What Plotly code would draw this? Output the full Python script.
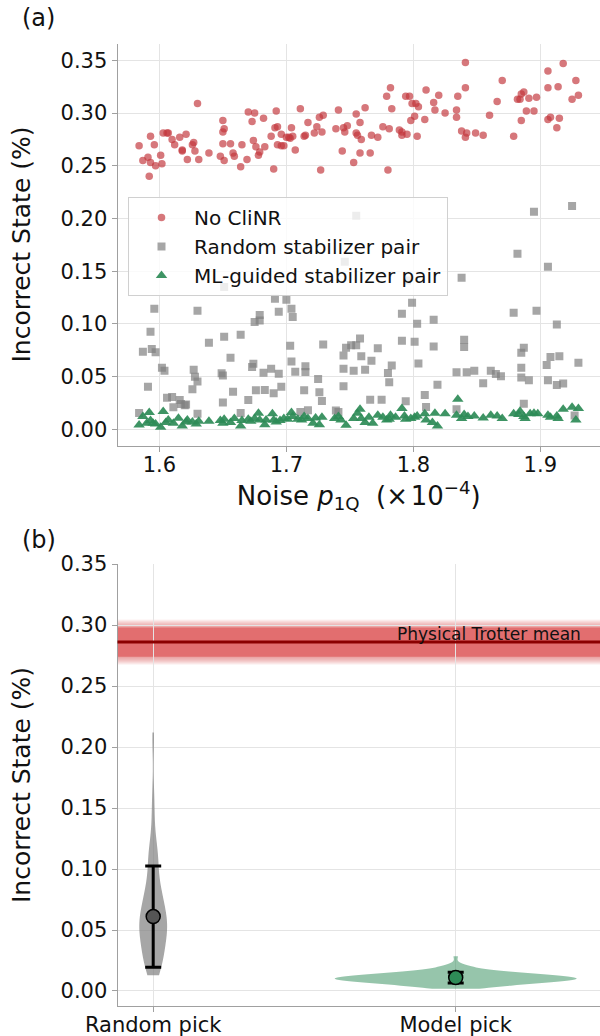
import plotly.graph_objects as go

# ---------------- data: panel (a) ----------------
red_x = [1.584,1.587,1.591,1.592,1.593,1.593,1.596,1.597,1.601,1.602,
         1.603,1.606,1.607,1.610,1.612,1.616,1.618,1.618,1.621,1.622,
         1.626,1.627,1.628,1.630,1.631,1.639,1.648,1.650,1.650,1.651,
         1.650,1.651,1.656,1.658,1.659,1.664,1.665,1.669,1.670,1.673,
         1.674,1.675,1.676,1.678,1.679,1.682,1.683,1.688,1.690,1.691,
         1.692,1.693,1.693,1.696,1.696,1.698,1.700,1.702,1.703,1.704,
         1.705,1.707,1.711,1.714,1.715,1.717,1.722,1.724,1.726,1.727,
         1.728,1.729,1.739,1.741,1.744,1.745,1.746,1.748,1.753,1.755,
         1.755,1.756,1.758,1.759,1.758,1.762,1.766,1.767,1.772,1.776,
         1.779,1.780,1.781,1.782,1.783,1.789,1.791,1.791,1.794,1.795,
         1.797,1.798,1.799,1.801,1.802,1.803,1.804,1.809,1.810,1.816,
         1.817,1.820,1.825,1.834,1.834,1.835,1.838,1.841,1.841,1.841,
         1.842,1.849,1.855,1.860,1.866,1.870,1.879,1.882,1.884,1.885,
         1.885,1.887,1.889,1.891,1.895,1.897,1.906,1.906,1.906,1.908,
         1.913,1.914,1.915,1.918,1.925,1.928,1.930]
red_y = [0.269,0.255,0.258,0.240,0.253,0.278,0.270,0.250,0.260,0.252,
         0.281,0.281,0.281,0.275,0.270,0.277,0.265,0.264,0.280,0.256,
         0.270,0.272,0.264,0.309,0.256,0.262,0.259,0.293,0.282,0.285,
         0.271,0.255,0.271,0.262,0.259,0.249,0.270,0.256,0.301,0.292,
         0.274,0.300,0.268,0.260,0.263,0.295,0.268,0.278,0.247,0.286,
         0.302,0.287,0.270,0.269,0.280,0.269,0.277,0.277,0.276,0.286,
         0.278,0.265,0.304,0.278,0.279,0.291,0.281,0.287,0.296,0.246,
         0.282,0.298,0.285,0.303,0.264,0.286,0.282,0.288,0.253,0.281,
         0.299,0.279,0.291,0.275,0.262,0.305,0.262,0.279,0.277,0.287,
         0.316,0.246,0.285,0.324,0.304,0.284,0.282,0.279,0.316,0.280,
         0.316,0.293,0.309,0.297,0.309,0.278,0.306,0.294,0.322,0.310,
         0.303,0.317,0.300,0.303,0.296,0.316,0.283,0.348,0.277,0.324,
         0.281,0.281,0.279,0.298,0.311,0.331,0.278,0.313,0.313,0.318,
         0.293,0.320,0.302,0.314,0.302,0.315,0.340,0.324,0.294,0.296,
         0.286,0.325,0.295,0.347,0.313,0.331,0.317]

gray_x = [1.584,1.587,1.591,1.593,1.594,1.596,1.597,1.602,1.604,1.606,
          1.610,1.611,1.616,1.617,1.620,1.621,1.626,1.627,1.628,1.630,
          1.630,1.630,1.639,1.649,1.650,1.650,1.651,1.651,1.656,1.658,
          1.664,1.664,1.670,1.673,1.674,1.675,1.676,1.679,1.679,1.682,
          1.683,1.688,1.690,1.691,1.694,1.694,1.696,1.700,1.703,1.704,
          1.705,1.704,1.707,1.711,1.714,1.715,1.715,1.717,1.725,1.726,
          1.728,1.729,1.739,1.741,1.745,1.745,1.745,1.747,1.746,1.755,
          1.751,1.755,1.758,1.759,1.762,1.767,1.772,1.753,1.766,1.775,
          1.780,1.781,1.783,1.791,1.791,1.794,1.795,1.799,1.801,1.803,
          1.804,1.809,1.810,1.816,1.816,1.819,1.834,1.834,1.838,1.840,
          1.840,1.842,1.848,1.855,1.861,1.865,1.869,1.879,1.882,1.885,
          1.885,1.887,1.885,1.891,1.887,1.895,1.897,1.905,1.906,1.906,
          1.908,1.913,1.913,1.915,1.918,1.925,1.927,1.930]
gray_y = [0.0155,0.0736,0.0404,0.0925,0.0761,0.1143,0.0730,0.0584,0.0556,0.0300,
          0.0306,0.0208,0.0278,0.0240,0.0227,0.0234,0.0379,0.0565,0.0499,0.0452,
          0.1124,0.0148,0.0821,0.0531,0.0509,0.0253,0.1349,0.0878,0.0679,0.0357,
          0.0155,0.0897,0.0278,0.0591,0.0622,0.1017,0.0370,0.1083,0.1033,0.0537,
          0.0373,0.0575,0.0341,0.1238,0.1115,0.0527,0.0404,0.1229,0.0793,0.1143,
          0.1064,0.0644,0.0546,0.0164,0.0370,0.0597,0.0543,0.0180,0.0477,0.0351,
          0.0268,0.0805,0.0177,0.0164,0.0701,0.0407,0.0575,0.0774,0.1590,0.2025,
          0.0796,0.0796,0.0862,0.0692,0.0565,0.0651,0.0768,0.0556,0.0281,0.0281,
          0.0534,0.0445,0.0606,0.1096,0.0840,0.0265,0.1412,0.1200,0.0831,0.1001,
          0.0625,0.0325,0.0212,0.0786,0.1039,0.0423,0.0540,0.0190,0.1437,0.0780,
          0.0850,0.0540,0.0556,0.0436,0.0556,0.0524,0.0502,0.1106,0.1665,0.0726,
          0.0584,0.0774,0.0490,0.0464,0.0243,0.2063,0.1124,0.0610,0.0464,0.1541,
          0.0685,0.0420,0.0995,0.0692,0.0433,0.2119,0.0130,0.0632]

green_x = [1.584,1.587,1.590,1.592,1.593,1.595,1.597,1.601,1.603,1.605,
           1.607,1.611,1.615,1.618,1.621,1.622,1.626,1.629,1.631,1.639,
           1.648,1.650,1.651,1.656,1.659,1.664,1.665,1.670,1.672,1.675,
           1.678,1.679,1.683,1.684,1.689,1.690,1.692,1.695,1.698,1.701,
           1.704,1.705,1.709,1.712,1.714,1.717,1.721,1.723,1.726,1.728,
           1.738,1.741,1.743,1.747,1.753,1.756,1.758,1.759,1.762,1.765,
           1.768,1.772,1.776,1.779,1.781,1.782,1.786,1.791,1.793,1.794,
           1.798,1.801,1.803,1.809,1.810,1.815,1.817,1.819,1.825,1.834,
           1.835,1.838,1.840,1.843,1.848,1.855,1.861,1.866,1.870,1.879,
           1.883,1.884,1.887,1.888,1.892,1.895,1.898,1.906,1.908,1.913,
           1.914,1.918,1.925,1.928,1.930]
green_y = [0.0041,0.0120,0.0057,0.0158,0.0082,0.0057,0.0051,0.0019,0.0168,0.0063,
           0.0089,0.0057,0.0104,0.0032,0.0070,0.0089,0.0070,0.0051,0.0076,0.0076,
           0.0082,0.0057,0.0095,0.0063,0.0101,0.0032,0.0082,0.0095,0.0076,0.0101,
           0.0152,0.0089,0.0044,0.0089,0.0146,0.0089,0.0070,0.0082,0.0101,0.0095,
           0.0158,0.0120,0.0095,0.0089,0.0120,0.0101,0.0057,0.0108,0.0044,0.0114,
           0.0101,0.0120,0.0089,0.0038,0.0101,0.0152,0.0190,0.0101,0.0063,0.0114,
           0.0057,0.0133,0.0114,0.0089,0.0095,0.0133,0.0114,0.0196,0.0127,0.0095,
           0.0101,0.0114,0.0127,0.0146,0.0089,0.0063,0.0152,0.0032,0.0146,0.0133,
           0.0285,0.0101,0.0139,0.0120,0.0127,0.0108,0.0133,0.0127,0.0101,0.0146,
           0.0139,0.0171,0.0120,0.0101,0.0146,0.0152,0.0146,0.0133,0.0114,0.0127,
           0.0101,0.0190,0.0209,0.0089,0.0196]

series_names = ["No CliNR", "Random stabilizer pair", "ML-guided stabilizer pair"]

# ---------------- data: panel (b) ----------------
pick_categories = ["Random pick", "Model pick"]
pick_means = [0.061, 0.011]
pick_stds = [0.0415, 0.0044]
trotter_mean = 0.286
trotter_std = 0.012
trotter_label = "Physical Trotter mean"

# ---------------- styling ----------------
FONT = "DejaVu Sans"
RED = "rgba(195,55,60,0.68)"
GRAY = "rgba(128,128,128,0.7)"
GREEN = "rgba(46,139,87,0.92)"
SPINE = "#a0a0a0"
GRID = "#e4e4e4"
W, H = 600, 1036

fig = go.Figure()

fig.add_trace(go.Scatter(x=red_x, y=red_y, mode="markers", name=series_names[0],
                         marker=dict(symbol="circle", size=7.5, color=RED, line=dict(width=0)),
                         xaxis="x", yaxis="y"))
fig.add_trace(go.Scatter(x=gray_x, y=gray_y, mode="markers", name=series_names[1],
                         marker=dict(symbol="square", size=8, color=GRAY, line=dict(width=0)),
                         xaxis="x", yaxis="y"))
fig.add_trace(go.Scatter(x=green_x, y=green_y, mode="markers", name=series_names[2],
                         marker=dict(symbol="triangle-up", size=10, color=GREEN, line=dict(width=0)),
                         xaxis="x", yaxis="y"))

# violins (kernel density of the same samples)
fig.add_trace(go.Violin(y=gray_y, x0=0, width=0.092, spanmode="hard", points=False,
                        fillcolor="rgba(128,128,128,0.7)", line=dict(width=0),
                        box=dict(visible=False), meanline=dict(visible=False),
                        showlegend=False, xaxis="x2", yaxis="y2", hoverinfo="skip"))
fig.add_trace(go.Violin(y=green_y, x0=1, width=0.8, spanmode="hard", points=False,
                        bandwidth=0.0025,
                        fillcolor="rgba(46,139,87,0.5)", line=dict(width=0),
                        box=dict(visible=False), meanline=dict(visible=False),
                        showlegend=False, xaxis="x2", yaxis="y2", hoverinfo="skip"))

marker_cols = ["#555555", "#2e8b57"]
for i in range(2):
    fig.add_trace(go.Scatter(x=[i], y=[pick_means[i]], mode="markers",
                             marker=dict(size=14, color=marker_cols[i], line=dict(color="black", width=1.5)),
                             error_y=dict(type="data", array=[pick_stds[i]], color="black", thickness=3, width=8),
                             showlegend=False, xaxis="x2", yaxis="y2"))

# Trotter band (soft edges) + line
shapes = []
fade_levels = [1.55, 1.48, 1.41, 1.34, 1.27, 1.20, 1.13, 1.06]
for k in fade_levels:
    shapes.append(dict(type="rect", xref="x2 domain", x0=0, x1=1, yref="y2",
                       y0=trotter_mean - k * trotter_std, y1=trotter_mean + k * trotter_std,
                       fillcolor="rgba(214,39,40,0.065)", line=dict(width=0), layer="below"))
shapes.append(dict(type="rect", xref="x2 domain", x0=0, x1=1, yref="y2",
                   y0=trotter_mean - trotter_std, y1=trotter_mean + trotter_std,
                   fillcolor="rgba(214,39,40,0.42)", line=dict(width=0), layer="below"))
shapes.append(dict(type="line", xref="x2 domain", x0=0, x1=1, yref="y2",
                   y0=trotter_mean, y1=trotter_mean, line=dict(color="#8b0000", width=3)))

axis_common = dict(showline=True, linecolor=SPINE, linewidth=1, ticks="outside", ticklen=5,
                   tickcolor=SPINE, tickwidth=1, showgrid=True, gridcolor=GRID, gridwidth=1,
                   zeroline=False, tickfont=dict(size=21, color="#111", family=FONT),
                   automargin=False, mirror=False)

title_font = dict(size=25, color="#111", family=FONT)

fig.update_layout(
    width=W, height=H, margin=dict(l=0, r=0, t=0, b=0),
    paper_bgcolor="white", plot_bgcolor="white",
    font=dict(family=FONT, color="#111"),
    violinmode="overlay", hovermode=False,
    xaxis=dict(domain=[117.5 / W, 1.0], range=[1.567, 1.947], dtick=0.1, tick0=1.6,
               tickformat=".1f", anchor="y", ticklabelstandoff=-5,
               title=dict(text="Noise <i>p</i><sub>1Q</sub>\u00a0\u00a0(\u00d7\u200a10<sup>\u22124</sup>)",
                          font=dict(size=26, color="#111", family=FONT), standoff=8),
               **axis_common),
    yaxis=dict(domain=[1 - 445.6 / H, 1 - 43.5 / H], range=[-0.0155, 0.366], dtick=0.05, tick0=0,
               tickformat=".2f", anchor="x",
               title=dict(text="Incorrect State (%)", font=title_font, standoff=22),
               **axis_common),
    xaxis2=dict(domain=[117.5 / W, 1.0], range=[-0.118, 1.477], tickvals=[0, 1],
                ticktext=pick_categories, anchor="y2", ticklabelstandoff=-5, **axis_common),
    yaxis2=dict(domain=[1 - 1006 / H, 1 - 564 / H], range=[-0.0123, 0.35], dtick=0.05, tick0=0,
                tickformat=".2f", anchor="x2",
                title=dict(text="Incorrect State (%)", font=title_font, standoff=22),
                **axis_common),
    legend=dict(x=128 / W, y=1 - 197 / H, xanchor="left", yanchor="top",
                bgcolor="rgba(255,255,255,0.8)", bordercolor="#d0d0d0", borderwidth=1,
                font=dict(size=20, family=FONT, color="#111"), itemwidth=55,
                tracegroupgap=0),
    shapes=shapes,
    annotations=[
        dict(text="(a)", x=20 / W, y=1 - 18 / H, xref="paper", yref="paper",
             xanchor="left", yanchor="middle", showarrow=False, font=dict(size=24, family=FONT, color="#111")),
        dict(text="(b)", x=20 / W, y=1 - 540 / H, xref="paper", yref="paper",
             xanchor="left", yanchor="middle", showarrow=False, font=dict(size=24, family=FONT, color="#111")),
        dict(text=trotter_label, x=583 / W, xref="paper", y=trotter_mean + 0.007, yref="y2",
             xanchor="right", yanchor="middle", showarrow=False, font=dict(size=17, family=FONT, color="#111")),
    ],
)

fig.write_html("out.html")
